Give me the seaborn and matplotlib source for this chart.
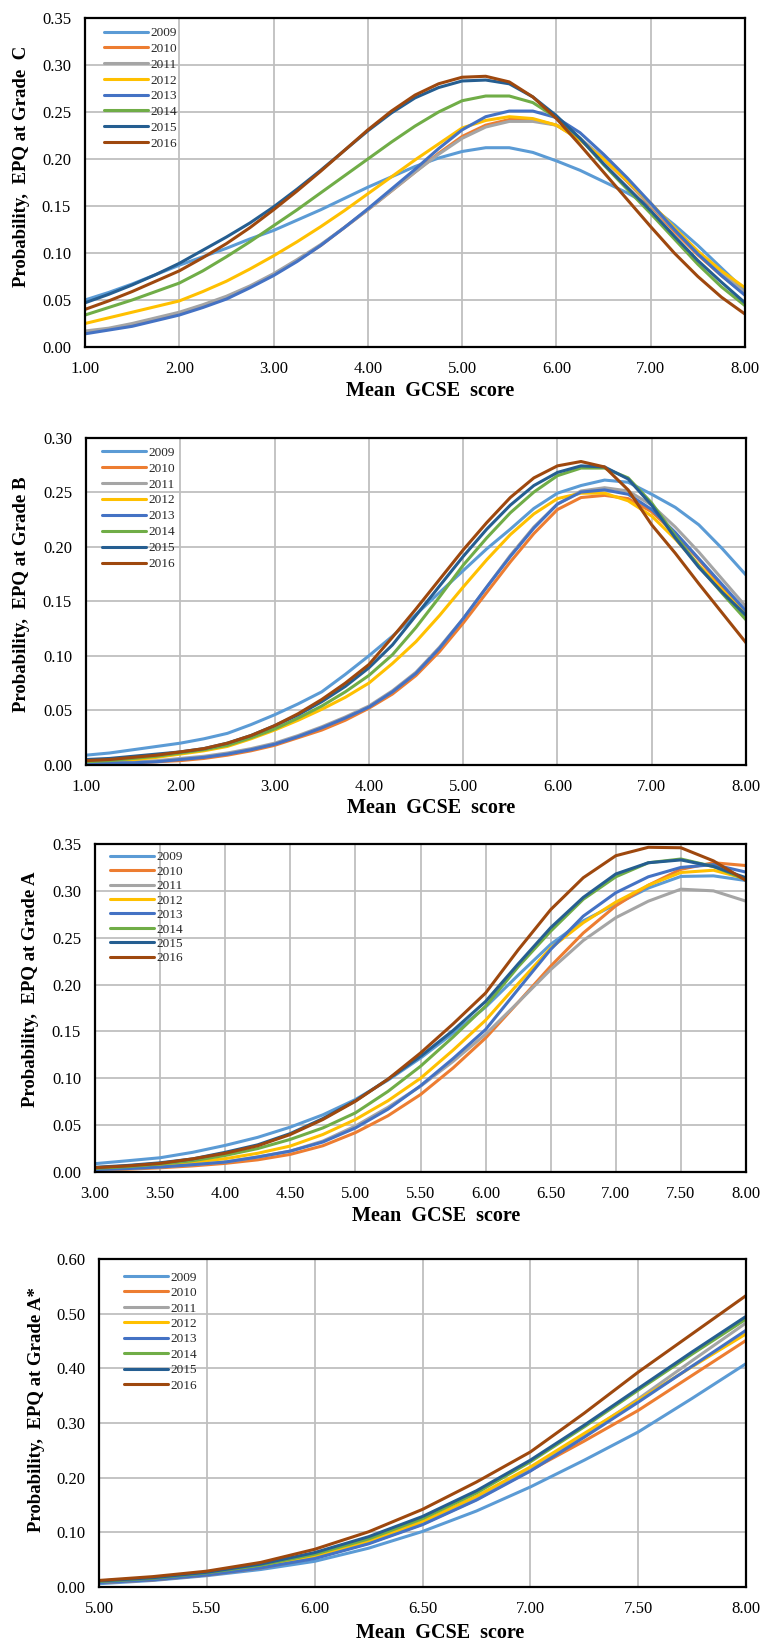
import matplotlib
matplotlib.use("Agg")
import matplotlib.pyplot as plt
from matplotlib.ticker import FormatStrFormatter, MultipleLocator
import numpy as np
import pandas as pd
import seaborn as sns

years = ["2009", "2010", "2011", "2012", "2013", "2014", "2015", "2016"]
colors = ["#5B9BD5", "#ED7D31", "#A5A5A5", "#FFC000", "#4472C4", "#70AD47", "#255E91", "#9E480E"]

# ---------------- Grade C ----------------
x_C = [1.00, 1.25, 1.50, 1.75, 2.00, 2.25, 2.50, 2.75, 3.00, 3.25, 3.50, 3.75, 4.00, 4.25, 4.50,
       4.75, 5.00, 5.25, 5.50, 5.75, 6.00, 6.25, 6.50, 6.75, 7.00, 7.25, 7.50, 7.75, 8.00]
C_2009 = [.050, .058, .067, .077, .087, .096, .105, .115, .124, .135, .146, .158, .170, .181, .192,
          .201, .208, .212, .212, .207, .198, .188, .176, .164, .150, .130, .108, .084, .060]
C_2010 = [.016, .019, .024, .030, .036, .044, .053, .064, .077, .092, .108, .127, .146, .166, .186,
          .206, .224, .236, .242, .242, .236, .221, .200, .176, .150, .123, .098, .076, .056]
C_2011 = [.017, .020, .025, .031, .037, .045, .054, .065, .078, .093, .109, .127, .146, .166, .186,
          .205, .222, .234, .240, .240, .236, .222, .201, .177, .151, .125, .100, .078, .058]
C_2012 = [.025, .031, .037, .043, .049, .059, .070, .083, .097, .112, .128, .145, .163, .181, .199,
          .216, .233, .241, .245, .243, .236, .220, .200, .177, .153, .127, .102, .081, .063]
C_2013 = [.014, .018, .022, .028, .034, .042, .051, .063, .076, .091, .108, .127, .147, .168, .189,
          .211, .231, .245, .251, .251, .244, .228, .205, .180, .153, .125, .099, .076, .055]
C_2014 = [.034, .042, .050, .059, .068, .081, .096, .112, .129, .146, .164, .182, .200, .218, .235,
          .250, .262, .267, .267, .260, .244, .222, .194, .168, .142, .115, .088, .064, .044]
C_2015 = [.047, .056, .066, .077, .089, .103, .117, .132, .149, .168, .188, .209, .230, .249, .265,
          .276, .283, .284, .280, .266, .246, .222, .195, .170, .145, .118, .092, .069, .047]
C_2016 = [.040, .049, .059, .070, .081, .095, .110, .127, .146, .166, .187, .209, .231, .251, .268,
          .280, .287, .288, .282, .266, .243, .215, .186, .157, .128, .100, .075, .053, .035]

# ---------------- Grade B ----------------
x_B = x_C
B_2009 = [.009, .011, .014, .017, .020, .024, .029, .037, .046, .056, .067, .083, .100, .118, .138,
          .158, .178, .198, .216, .235, .249, .256, .261, .259, .248, .236, .220, .198, .174]
B_2010 = [.001, .001, .002, .003, .004, .006, .009, .013, .018, .025, .032, .041, .052, .065, .082,
          .104, .130, .158, .186, .212, .234, .245, .247, .244, .232, .212, .188, .163, .139]
B_2011 = [.001, .002, .003, .004, .006, .008, .011, .015, .020, .027, .035, .044, .054, .068, .085,
          .108, .134, .163, .192, .218, .239, .251, .254, .251, .238, .218, .195, .170, .145]
B_2012 = [.003, .004, .005, .007, .010, .013, .017, .024, .032, .041, .051, .062, .075, .093, .113,
          .137, .163, .188, .211, .230, .244, .249, .249, .242, .228, .207, .183, .160, .138]
B_2013 = [.001, .002, .002, .003, .005, .007, .010, .014, .019, .026, .034, .043, .053, .067, .084,
          .107, .134, .163, .191, .217, .239, .250, .252, .248, .234, .213, .189, .165, .141]
B_2014 = [.003, .004, .006, .008, .011, .014, .018, .025, .033, .043, .054, .067, .082, .101, .126,
          .154, .183, .208, .231, .250, .265, .272, .272, .263, .240, .210, .182, .157, .133]
B_2015 = [.005, .006, .008, .010, .012, .015, .020, .027, .036, .046, .058, .072, .089, .110, .137,
          .164, .191, .216, .238, .256, .268, .274, .273, .262, .238, .208, .181, .158, .137]
B_2016 = [.004, .005, .007, .009, .012, .015, .020, .027, .036, .047, .060, .075, .092, .117, .143,
          .170, .197, .222, .245, .263, .274, .278, .273, .252, .220, .194, .166, .139, .112]

# ---------------- Grade A ----------------
x_A = [3.00, 3.25, 3.50, 3.75, 4.00, 4.25, 4.50, 4.75, 5.00, 5.25, 5.50, 5.75, 6.00, 6.25, 6.50,
       6.75, 7.00, 7.25, 7.50, 7.75, 8.00]
A_2009 = [.0089, .012, .0152, .021, .0284, .037, .0479, .061, .0773, .098, .1216, .148, .176, .210, .243,
          .268, .2857, .303, .3154, .316, .311]
A_2010 = [.002, .003, .0045, .0065, .0092, .013, .0188, .028, .042, .060, .0826, .111, .143, .181, .2196,
          .255, .284, .306, .323, .330, .327]
A_2011 = [.0025, .0037, .0053, .0078, .0106, .016, .0223, .033, .049, .069, .0915, .118, .147, .181, .216,
          .247, .2714, .289, .3018, .300, .289]
A_2012 = [.003, .0048, .0074, .0105, .0142, .020, .0277, .040, .056, .076, .100, .130, .162, .201, .239,
          .266, .288, .306, .3196, .322, .313]
A_2013 = [.0025, .0037, .0053, .0078, .0106, .016, .0223, .032, .047, .067, .092, .121, .152, .195, .2375,
          .273, .298, .315, .325, .328, .320]
A_2014 = [.0039, .0057, .0085, .012, .0177, .025, .0348, .047, .0631, .086, .1128, .144, .177, .219, .257,
          .291, .315, .330, .334, .326, .312]
A_2015 = [.005, .007, .0098, .014, .021, .029, .041, .057, .076, .099, .1234, .151, .182, .222, .2607,
          .293, .318, .330, .333, .326, .314]
A_2016 = [.0046, .0065, .0092, .014, .020, .028, .040, .056, .0755, .099, .127, .158, .191, .237, .280,
          .314, .3375, .3465, .346, .332, .311]

# ---------------- Grade A* ----------------
x_S = [5.00, 5.25, 5.50, 5.75, 6.00, 6.25, 6.50, 6.75, 7.00, 7.25, 7.50, 7.75, 8.00]
S_2009 = [.006, .012, .0207, .032, .047, .071, .1016, .139, .183, .232, .2835, .345, .4085]
S_2010 = [.008, .013, .022, .035, .053, .080, .115, .160, .2134, .267, .323, .387, .451]
S_2011 = [.009, .015, .024, .037, .056, .083, .118, .163, .216, .278, .344, .414, .483]
S_2012 = [.010, .015, .024, .038, .057, .084, .120, .166, .2195, .281, .3415, .403, .463]
S_2013 = [.008, .013, .022, .035, .052, .079, .114, .159, .212, .274, .338, .404, .4695]
S_2014 = [.010, .016, .026, .040, .060, .088, .125, .172, .229, .293, .360, .426, .490]
S_2015 = [.011, .017, .027, .042, .063, .092, .129, .176, .232, .296, .363, .430, .495]
S_2016 = [.012, .019, .029, .045, .069, .101, .142, .192, .247, .318, .393, .463, .533]

W, H = 764, 1644

panels = [
    dict(x=x_C, ys=[C_2009, C_2010, C_2011, C_2012, C_2013, C_2014, C_2015, C_2016],
         xlim=(1, 8), xstep=1.0, ylim=(0, 0.35), ystep=0.05,
         ylabel="Probability,  EPQ at Grade  C",
         box=(85, 18, 745, 347), ylab_px=(22, 166), xlab_px=(430, 391),
         leg_px=(104, 33.7), leg_sp=16.7),
    dict(x=x_B, ys=[B_2009, B_2010, B_2011, B_2012, B_2013, B_2014, B_2015, B_2016],
         xlim=(1, 8), xstep=1.0, ylim=(0, 0.30), ystep=0.05,
         ylabel="Probability,  EPQ at Grade B",
         box=(86, 437.5, 746, 765), ylab_px=(22, 594), xlab_px=(431, 808),
         leg_px=(102, 453), leg_sp=16.9),
    dict(x=x_A, ys=[A_2009, A_2010, A_2011, A_2012, A_2013, A_2014, A_2015, A_2016],
         xlim=(3, 8), xstep=0.5, ylim=(0, 0.35), ystep=0.05,
         ylabel="Probability,  EPQ at Grade A",
         box=(95, 844, 746, 1172), ylab_px=(31, 989), xlab_px=(436, 1216),
         leg_px=(110, 857.7), leg_sp=15.4),
    dict(x=x_S, ys=[S_2009, S_2010, S_2011, S_2012, S_2013, S_2014, S_2015, S_2016],
         xlim=(5, 8), xstep=0.5, ylim=(0, 0.60), ystep=0.10,
         ylabel="Probability,  EPQ at Grade A*",
         box=(99, 1259, 746, 1587), ylab_px=(36, 1410), xlab_px=(440, 1633),
         leg_px=(124, 1278), leg_sp=16.4),
]

sns.set_theme(style="whitegrid")
plt.rcParams["font.family"] = ["Liberation Serif", "DejaVu Serif"]
plt.rcParams["axes.edgecolor"] = "black"

fig = plt.figure(figsize=(W / 100, H / 100), dpi=100)

LEG_FS = 9.5
leg_px_per_pt = 100 / 72

for p in panels:
    l, t, r, b = p["box"]
    aw, ah = r - l, b - t
    ax = fig.add_axes([l / W, 1 - b / H, aw / W, ah / H])
    rows = []
    for yr, ys in zip(years, p["ys"]):
        for xv, yv in zip(p["x"], ys):
            rows.append((xv, yv, yr))
    df = pd.DataFrame(rows, columns=["score", "prob", "year"])
    sns.lineplot(data=df, x="score", y="prob", hue="year", hue_order=years,
                 palette=colors, linewidth=2.2, estimator=None, sort=False, ax=ax)
    ax.set_xlim(*p["xlim"])
    ax.set_ylim(*p["ylim"])
    ax.xaxis.set_major_locator(MultipleLocator(p["xstep"]))
    ax.yaxis.set_major_locator(MultipleLocator(p["ystep"]))
    ax.xaxis.set_major_formatter(FormatStrFormatter("%.2f"))
    ax.yaxis.set_major_formatter(FormatStrFormatter("%.2f"))
    ax.grid(True, color="#BFBFBF", linewidth=1.3)
    for s in ax.spines.values():
        s.set_color("black")
        s.set_linewidth(1.6)
    ax.tick_params(axis="both", length=0, labelsize=12, colors="black")
    ax.tick_params(axis="x", pad=10)
    ax.tick_params(axis="y", pad=10)
    ax.set_xlabel("Mean  GCSE  score", fontsize=14.5, fontweight="bold", color="black")
    ax.set_ylabel(p["ylabel"], fontsize=13.5, fontweight="bold", color="black")
    ax.xaxis.label.set_va("center")
    ax.yaxis.label.set_va("center")
    yx, yy = p["ylab_px"]
    ax.yaxis.set_label_coords((yx - l) / aw, (b - yy) / ah)
    xx, xy = p["xlab_px"]
    ax.xaxis.set_label_coords((xx - l) / aw, -(xy - b) / ah)
    fs_px = LEG_FS * leg_px_per_pt
    lx, ly = p["leg_px"]
    top_px = ly - 0.5 * fs_px
    leg = ax.legend(loc="upper left",
                    bbox_to_anchor=((lx - l) / aw, 1 - (top_px - t) / ah),
                    frameon=False, fontsize=LEG_FS, handlelength=3.3,
                    labelspacing=(p["leg_sp"] - fs_px) / fs_px,
                    handletextpad=0.25, borderaxespad=0.0, borderpad=0.0)
    for ln in leg.get_lines():
        ln.set_linewidth(2.2)

fig.savefig("out.png", dpi=100)
